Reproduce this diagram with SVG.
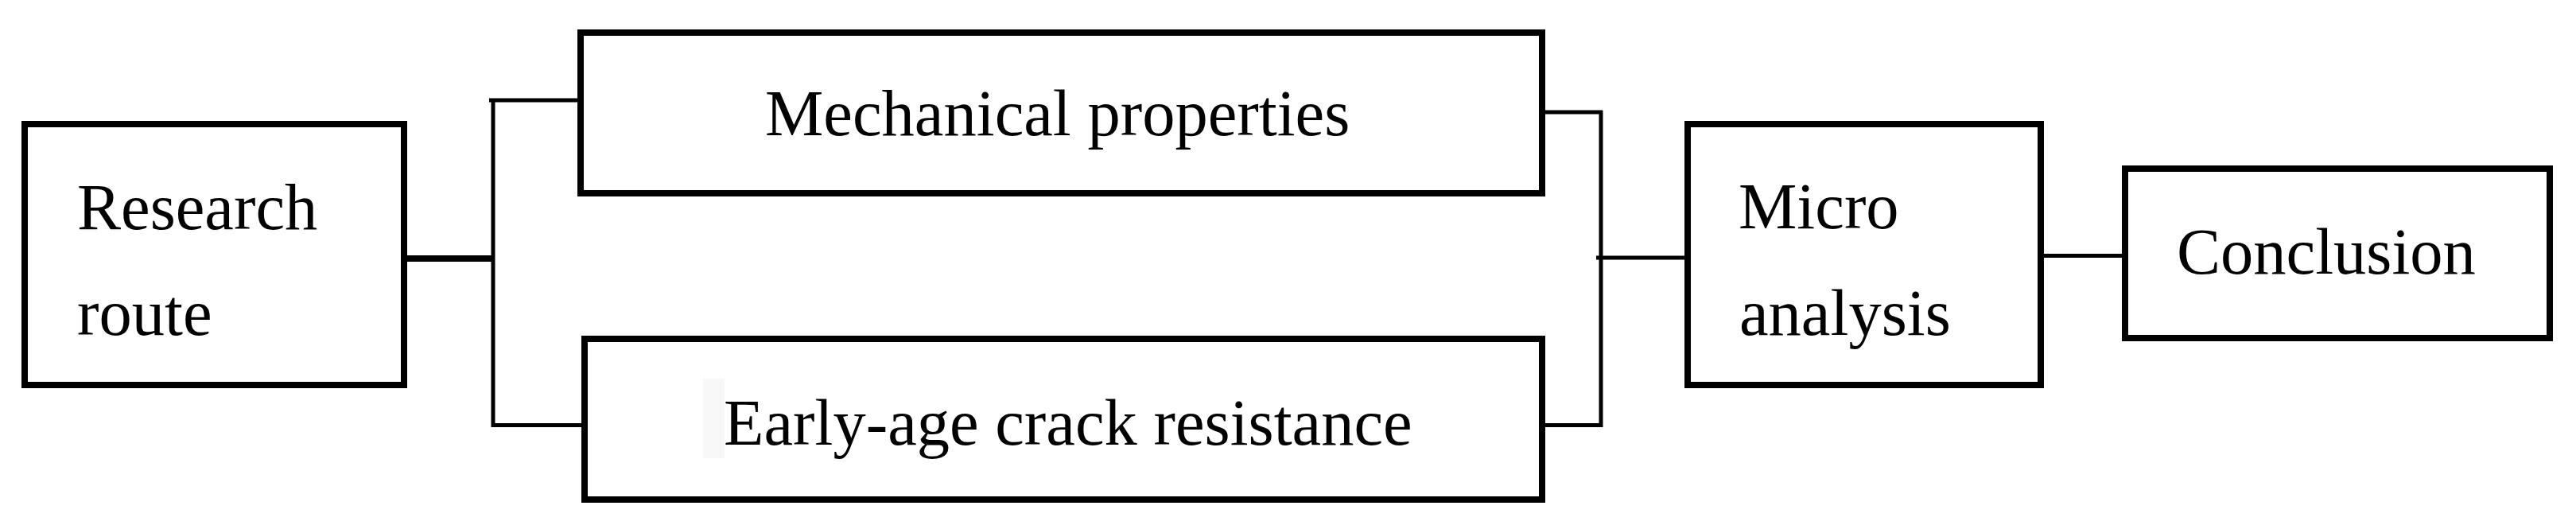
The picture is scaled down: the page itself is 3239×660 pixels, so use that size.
<svg xmlns="http://www.w3.org/2000/svg" width="3239" height="660" viewBox="0 0 3239 660">
<style>
.box{fill:#ffffff;stroke:#000000;stroke-width:8}
.lbl{font-family:"Liberation Serif","Times New Roman",serif;font-size:82.5px;fill:#000000}
.c{stroke:#000000;stroke-width:5;fill:none}
.ct{stroke:#000000;stroke-width:8;fill:none}
</style>
<rect width="3239" height="660" fill="#ffffff"/>
<g id="connectors">
<line class="ct" x1="510" y1="325" x2="622" y2="325"/>
<line class="c" x1="620" y1="124" x2="620" y2="537"/>
<line class="c" x1="615" y1="126" x2="728" y2="126"/>
<line class="c" x1="618" y1="534.5" x2="733" y2="534.5"/>
<line class="c" x1="1941" y1="141" x2="2015" y2="141"/>
<line class="c" x1="2013" y1="139" x2="2013" y2="537"/>
<line class="c" x1="1941" y1="534.5" x2="2015" y2="534.5"/>
<line class="c" x1="2007" y1="324" x2="2120" y2="324"/>
<line class="c" x1="2568" y1="321.5" x2="2670" y2="321.5"/>
</g>
<g id="research-route">
<rect class="box" x="31" y="156" width="477" height="328"/>
<text class="lbl" x="97" y="288">Research</text>
<text class="lbl" x="97" y="421">route</text>
</g>
<g id="mechanical-properties">
<rect class="box" x="730" y="41" width="1209" height="202"/>
<text class="lbl" x="962" y="170">Mechanical properties</text>
</g>
<g id="early-age-crack-resistance">
<rect class="box" x="735" y="426" width="1204" height="202"/>
<rect x="884" y="476" width="27" height="100" fill="#f8f8f8"/>
<text class="lbl" x="910" y="559">Early-age crack resistance</text>
</g>
<g id="micro-analysis">
<rect class="box" x="2122" y="156" width="444" height="328"/>
<text class="lbl" x="2186" y="287">Micro</text>
<text class="lbl" x="2187" y="421">analysis</text>
</g>
<g id="conclusion">
<rect class="box" x="2672" y="212" width="534" height="213"/>
<text class="lbl" x="2737" y="344">Conclusion</text>
</g>
</svg>
